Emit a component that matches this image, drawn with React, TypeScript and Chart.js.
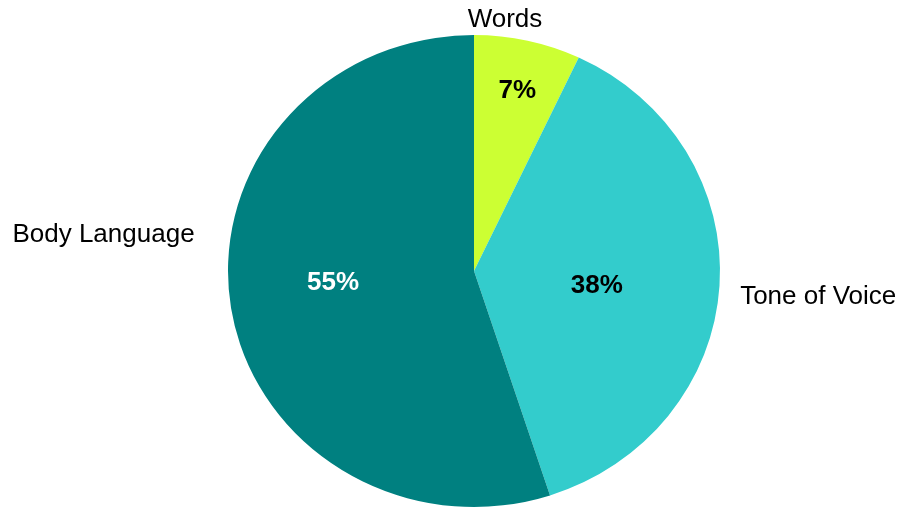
import React, { useEffect, useRef } from "react";
import { Chart, registerables } from "chart.js";

Chart.register(...registerables);

const categories = ["Words", "Tone of Voice", "Body Language"];
const shares = [7, 38, 55];
const sliceColors = ["#CCFF33", "#33CCCC", "#008080"];
const pctColors = ["#000000", "#000000", "#FFFFFF"];

// label placement styling (fractions of radius + pixel nudges)
const pctDist = [0.79, 0.5, 0.58];
const pctNudge = [[1, 0], [0, 5], [0, -12]];
const outerNudge = [[-27, -4.5], [1, 7.7], [-17, -78]];
const outerAlign: CanvasTextAlign[] = ["center", "left", "right"];

const X_STRETCH = 246 / 236;
const FONT = '"Liberation Sans", Arial, Helvetica, sans-serif';

const ellipsePlugin = {
  id: "ellipse",
  beforeDatasetsDraw(chart: any) {
    const arc = chart.getDatasetMeta(0).data[0];
    if (!arc) return;
    const ctx = chart.ctx;
    ctx.save();
    ctx.translate(arc.x, arc.y);
    ctx.scale(X_STRETCH, 1);
    ctx.translate(-arc.x, -arc.y);
  },
  afterDatasetsDraw(chart: any) {
    chart.ctx.restore();
  },
};

const labelPlugin = {
  id: "pieLabels",
  afterDraw(chart: any) {
    const ctx = chart.ctx;
    const meta = chart.getDatasetMeta(0);
    const data = chart.data.datasets[0].data as number[];
    meta.data.forEach((arc: any, i: number) => {
      const cx = arc.x;
      const cy = arc.y;
      const R = arc.outerRadius;
      const mid = (arc.startAngle + arc.endAngle) / 2;
      const ux = Math.cos(mid) * X_STRETCH;
      const uy = Math.sin(mid);
      const size = 26;
      const capHalf = size * 0.716 / 2;

      // percentage label
      const d = R * pctDist[i];
      ctx.save();
      ctx.font = `bold ${size}px ${FONT}`;
      ctx.fillStyle = pctColors[i];
      ctx.textAlign = "center";
      ctx.textBaseline = "alphabetic";
      ctx.fillText(
        `${data[i]}%`,
        cx + ux * d + pctNudge[i][0],
        cy + uy * d + pctNudge[i][1] + capHalf
      );
      ctx.restore();

      // category label
      const o = R * 1.08;
      ctx.save();
      ctx.font = `${size}px ${FONT}`;
      ctx.fillStyle = "#000000";
      ctx.textAlign = outerAlign[i];
      ctx.textBaseline = "alphabetic";
      ctx.fillText(
        chart.data.labels[i],
        cx + ux * o + outerNudge[i][0],
        cy + uy * o + outerNudge[i][1] + capHalf
      );
      ctx.restore();
    });
  },
};

export default function App() {
  const ref = useRef<HTMLCanvasElement | null>(null);
  useEffect(() => {
    if (!ref.current) return;
    const chart = new Chart(ref.current, {
      type: "pie",
      data: {
        labels: categories,
        datasets: [
          {
            data: shares,
            backgroundColor: sliceColors,
            borderWidth: 0,
          },
        ],
      },
      options: {
        responsive: false,
        animation: false,
        devicePixelRatio: 1,
        layout: { padding: { left: 43, right: 0, top: 35, bottom: 7 } },
        plugins: {
          legend: { display: false },
          tooltip: { enabled: false },
        },
      },
      plugins: [ellipsePlugin, labelPlugin],
    });
    return () => chart.destroy();
  }, []);
  return (
    <div style={{ position: "absolute", left: 0, top: 0, width: 905, height: 514, background: "#fff" }}>
      <canvas ref={ref} width={905} height={514} style={{ display: "block", width: 905, height: 514 }} />
    </div>
  );
}
